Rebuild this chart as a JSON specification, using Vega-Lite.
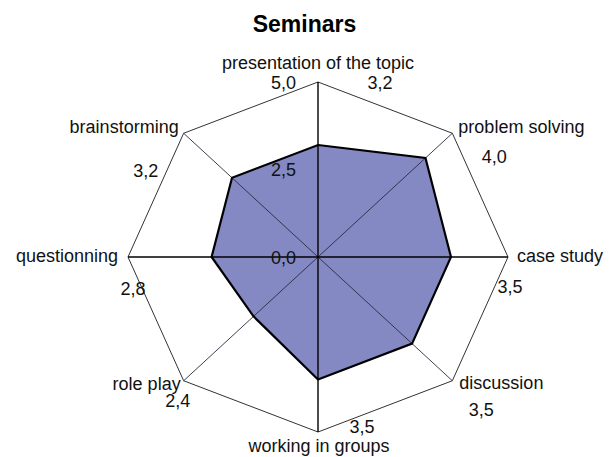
{
  "$schema": "https://vega.github.io/schema/vega-lite/v6.json",
  "width": 609,
  "height": 412,
  "autosize": "none",
  "padding": {"top": 45, "left": 0, "right": 0, "bottom": 0},
  "background": "white",
  "title": {"text": "Seminars", "font": "Liberation Sans", "fontSize": 23, "fontWeight": "bold", "color": "black", "anchor": "middle", "frame": "group", "baseline": "alphabetic", "offset": 13, "dy": 23},
  "config": {
    "view": {"stroke": null},
    "locale": {"number": {"decimal": ",", "thousands": ".", "grouping": [3], "currency": ["", " €"]}},
    "text": {"font": "Liberation Sans", "fontSize": 18, "color": "#111", "baseline": "middle"}
  },
  "data": {"values": [
    {"category": "presentation of the topic", "order": 0, "value": 3.2},
    {"category": "problem solving", "order": 1, "value": 4.0},
    {"category": "case study", "order": 2, "value": 3.5},
    {"category": "discussion", "order": 3, "value": 3.5},
    {"category": "working in groups", "order": 4, "value": 3.5},
    {"category": "role play", "order": 5, "value": 2.4},
    {"category": "questionning", "order": 6, "value": 2.8},
    {"category": "brainstorming", "order": 7, "value": 3.2}
  ]},
  "transform": [
    {"calculate": "datum.order * PI / 4", "as": "ang"},
    {"calculate": "datum.value * sin(datum.ang)", "as": "px"},
    {"calculate": "datum.value * cos(datum.ang)", "as": "py"},
    {"calculate": "5 * sin(datum.ang)", "as": "vx"},
    {"calculate": "5 * cos(datum.ang)", "as": "vy"}
  ],
  "layer": [
    {
      "mark": {"type": "line", "interpolate": "linear-closed", "fill": "#8489c4", "stroke": null, "strokeWidth": 0},
      "encoding": {
        "x": {"field": "px", "type": "quantitative", "scale": {"domain": [-8.36842, 7.65789], "nice": false, "zero": false}, "axis": null},
        "y": {"field": "py", "type": "quantitative", "scale": {"domain": [-5.71429, 6.05714], "nice": false, "zero": false}, "axis": null},
        "order": {"field": "order"}
      }
    },
    {
      "mark": {"type": "line", "interpolate": "linear-closed", "stroke": "#333333", "strokeWidth": 1},
      "encoding": {
        "x": {"field": "vx", "type": "quantitative", "scale": {"domain": [-8.36842, 7.65789], "nice": false, "zero": false}, "axis": null},
        "y": {"field": "vy", "type": "quantitative", "scale": {"domain": [-5.71429, 6.05714], "nice": false, "zero": false}, "axis": null},
        "order": {"field": "order"}
      }
    },
    {
      "transform": [{"filter": "datum.order % 2 == 1"}],
      "mark": {"type": "rule", "stroke": "#2a2a40", "strokeWidth": 0.9},
      "encoding": {
        "x": {"field": "vx", "type": "quantitative", "scale": {"domain": [-8.36842, 7.65789], "nice": false, "zero": false}, "axis": null},
        "y": {"field": "vy", "type": "quantitative", "scale": {"domain": [-5.71429, 6.05714], "nice": false, "zero": false}, "axis": null},
        "x2": {"datum": 0},
        "y2": {"datum": 0}
      }
    },
    {
      "transform": [{"filter": "datum.order % 2 == 0"}],
      "mark": {"type": "rule", "stroke": "#000000", "strokeWidth": 1.4},
      "encoding": {
        "x": {"field": "vx", "type": "quantitative", "scale": {"domain": [-8.36842, 7.65789], "nice": false, "zero": false}, "axis": null},
        "y": {"field": "vy", "type": "quantitative", "scale": {"domain": [-5.71429, 6.05714], "nice": false, "zero": false}, "axis": null},
        "x2": {"datum": 0},
        "y2": {"datum": 0}
      }
    },
    {
      "mark": {"type": "line", "interpolate": "linear-closed", "stroke": "#000000", "strokeWidth": 2.2},
      "encoding": {
        "x": {"field": "px", "type": "quantitative", "scale": {"domain": [-8.36842, 7.65789], "nice": false, "zero": false}, "axis": null},
        "y": {"field": "py", "type": "quantitative", "scale": {"domain": [-5.71429, 6.05714], "nice": false, "zero": false}, "axis": null},
        "order": {"field": "order"}
      }
    },
    {
      "transform": [{"filter": "datum.order == 0"}],
      "mark": {"type": "text", "align": "center", "dy": -18},
      "encoding": {
        "x": {"field": "vx", "type": "quantitative", "scale": {"domain": [-8.36842, 7.65789], "nice": false, "zero": false}, "axis": null},
        "y": {"field": "vy", "type": "quantitative", "scale": {"domain": [-5.71429, 6.05714], "nice": false, "zero": false}, "axis": null},
        "text": {"field": "category"}
      }
    },
    {
      "transform": [{"filter": "datum.order == 1"}],
      "mark": {"type": "text", "align": "left", "dx": 6, "dy": -5},
      "encoding": {
        "x": {"field": "vx", "type": "quantitative", "scale": {"domain": [-8.36842, 7.65789], "nice": false, "zero": false}, "axis": null},
        "y": {"field": "vy", "type": "quantitative", "scale": {"domain": [-5.71429, 6.05714], "nice": false, "zero": false}, "axis": null},
        "text": {"field": "category"}
      }
    },
    {
      "transform": [{"filter": "datum.order == 2"}],
      "mark": {"type": "text", "align": "left", "dx": 9, "dy": 0},
      "encoding": {
        "x": {"field": "vx", "type": "quantitative", "scale": {"domain": [-8.36842, 7.65789], "nice": false, "zero": false}, "axis": null},
        "y": {"field": "vy", "type": "quantitative", "scale": {"domain": [-5.71429, 6.05714], "nice": false, "zero": false}, "axis": null},
        "text": {"field": "category"}
      }
    },
    {
      "transform": [{"filter": "datum.order == 3"}],
      "mark": {"type": "text", "align": "left", "dx": 7, "dy": 3},
      "encoding": {
        "x": {"field": "vx", "type": "quantitative", "scale": {"domain": [-8.36842, 7.65789], "nice": false, "zero": false}, "axis": null},
        "y": {"field": "vy", "type": "quantitative", "scale": {"domain": [-5.71429, 6.05714], "nice": false, "zero": false}, "axis": null},
        "text": {"field": "category"}
      }
    },
    {
      "transform": [{"filter": "datum.order == 4"}],
      "mark": {"type": "text", "align": "center", "dx": 1, "dy": 15},
      "encoding": {
        "x": {"field": "vx", "type": "quantitative", "scale": {"domain": [-8.36842, 7.65789], "nice": false, "zero": false}, "axis": null},
        "y": {"field": "vy", "type": "quantitative", "scale": {"domain": [-5.71429, 6.05714], "nice": false, "zero": false}, "axis": null},
        "text": {"field": "category"}
      }
    },
    {
      "transform": [{"filter": "datum.order == 5"}],
      "mark": {"type": "text", "align": "right", "dx": -3, "dy": 4},
      "encoding": {
        "x": {"field": "vx", "type": "quantitative", "scale": {"domain": [-8.36842, 7.65789], "nice": false, "zero": false}, "axis": null},
        "y": {"field": "vy", "type": "quantitative", "scale": {"domain": [-5.71429, 6.05714], "nice": false, "zero": false}, "axis": null},
        "text": {"field": "category"}
      }
    },
    {
      "transform": [{"filter": "datum.order == 6"}],
      "mark": {"type": "text", "align": "right", "dx": -10, "dy": 0},
      "encoding": {
        "x": {"field": "vx", "type": "quantitative", "scale": {"domain": [-8.36842, 7.65789], "nice": false, "zero": false}, "axis": null},
        "y": {"field": "vy", "type": "quantitative", "scale": {"domain": [-5.71429, 6.05714], "nice": false, "zero": false}, "axis": null},
        "text": {"field": "category"}
      }
    },
    {
      "transform": [{"filter": "datum.order == 7"}],
      "mark": {"type": "text", "align": "right", "dx": -5, "dy": -5},
      "encoding": {
        "x": {"field": "vx", "type": "quantitative", "scale": {"domain": [-8.36842, 7.65789], "nice": false, "zero": false}, "axis": null},
        "y": {"field": "vy", "type": "quantitative", "scale": {"domain": [-5.71429, 6.05714], "nice": false, "zero": false}, "axis": null},
        "text": {"field": "category"}
      }
    },
    {
      "transform": [{"filter": "datum.order == 0"}],
      "mark": {"type": "text", "align": "center", "dx": 62, "dy": 2},
      "encoding": {
        "x": {"field": "vx", "type": "quantitative", "scale": {"domain": [-8.36842, 7.65789], "nice": false, "zero": false}, "axis": null},
        "y": {"field": "vy", "type": "quantitative", "scale": {"domain": [-5.71429, 6.05714], "nice": false, "zero": false}, "axis": null},
        "text": {"field": "value", "type": "quantitative", "format": ".1f"}
      }
    },
    {
      "transform": [{"filter": "datum.order == 1"}],
      "mark": {"type": "text", "align": "center", "dx": 42, "dy": 25},
      "encoding": {
        "x": {"field": "vx", "type": "quantitative", "scale": {"domain": [-8.36842, 7.65789], "nice": false, "zero": false}, "axis": null},
        "y": {"field": "vy", "type": "quantitative", "scale": {"domain": [-5.71429, 6.05714], "nice": false, "zero": false}, "axis": null},
        "text": {"field": "value", "type": "quantitative", "format": ".1f"}
      }
    },
    {
      "transform": [{"filter": "datum.order == 2"}],
      "mark": {"type": "text", "align": "center", "dx": 2, "dy": 31},
      "encoding": {
        "x": {"field": "vx", "type": "quantitative", "scale": {"domain": [-8.36842, 7.65789], "nice": false, "zero": false}, "axis": null},
        "y": {"field": "vy", "type": "quantitative", "scale": {"domain": [-5.71429, 6.05714], "nice": false, "zero": false}, "axis": null},
        "text": {"field": "value", "type": "quantitative", "format": ".1f"}
      }
    },
    {
      "transform": [{"filter": "datum.order == 3"}],
      "mark": {"type": "text", "align": "center", "dx": 29, "dy": 30},
      "encoding": {
        "x": {"field": "vx", "type": "quantitative", "scale": {"domain": [-8.36842, 7.65789], "nice": false, "zero": false}, "axis": null},
        "y": {"field": "vy", "type": "quantitative", "scale": {"domain": [-5.71429, 6.05714], "nice": false, "zero": false}, "axis": null},
        "text": {"field": "value", "type": "quantitative", "format": ".1f"}
      }
    },
    {
      "transform": [{"filter": "datum.order == 4"}],
      "mark": {"type": "text", "align": "center", "dx": 44, "dy": -4},
      "encoding": {
        "x": {"field": "vx", "type": "quantitative", "scale": {"domain": [-8.36842, 7.65789], "nice": false, "zero": false}, "axis": null},
        "y": {"field": "vy", "type": "quantitative", "scale": {"domain": [-5.71429, 6.05714], "nice": false, "zero": false}, "axis": null},
        "text": {"field": "value", "type": "quantitative", "format": ".1f"}
      }
    },
    {
      "transform": [{"filter": "datum.order == 5"}],
      "mark": {"type": "text", "align": "center", "dx": -6, "dy": 21},
      "encoding": {
        "x": {"field": "vx", "type": "quantitative", "scale": {"domain": [-8.36842, 7.65789], "nice": false, "zero": false}, "axis": null},
        "y": {"field": "vy", "type": "quantitative", "scale": {"domain": [-5.71429, 6.05714], "nice": false, "zero": false}, "axis": null},
        "text": {"field": "value", "type": "quantitative", "format": ".1f"}
      }
    },
    {
      "transform": [{"filter": "datum.order == 6"}],
      "mark": {"type": "text", "align": "center", "dx": 5, "dy": 33},
      "encoding": {
        "x": {"field": "vx", "type": "quantitative", "scale": {"domain": [-8.36842, 7.65789], "nice": false, "zero": false}, "axis": null},
        "y": {"field": "vy", "type": "quantitative", "scale": {"domain": [-5.71429, 6.05714], "nice": false, "zero": false}, "axis": null},
        "text": {"field": "value", "type": "quantitative", "format": ".1f"}
      }
    },
    {
      "transform": [{"filter": "datum.order == 7"}],
      "mark": {"type": "text", "align": "center", "dx": -38, "dy": 39},
      "encoding": {
        "x": {"field": "vx", "type": "quantitative", "scale": {"domain": [-8.36842, 7.65789], "nice": false, "zero": false}, "axis": null},
        "y": {"field": "vy", "type": "quantitative", "scale": {"domain": [-5.71429, 6.05714], "nice": false, "zero": false}, "axis": null},
        "text": {"field": "value", "type": "quantitative", "format": ".1f"}
      }
    },
    {
      "data": {"values": [{"tick": 0}, {"tick": 2.5}, {"tick": 5}]},
      "mark": {"type": "text", "align": "right", "dx": -22, "dy": 2},
      "encoding": {
        "x": {"datum": 0, "type": "quantitative", "scale": {"domain": [-8.36842, 7.65789], "nice": false, "zero": false}, "axis": null},
        "y": {"field": "tick", "type": "quantitative", "scale": {"domain": [-5.71429, 6.05714], "nice": false, "zero": false}, "axis": null},
        "text": {"field": "tick", "type": "quantitative", "format": ".1f"}
      }
    }
  ]
}
